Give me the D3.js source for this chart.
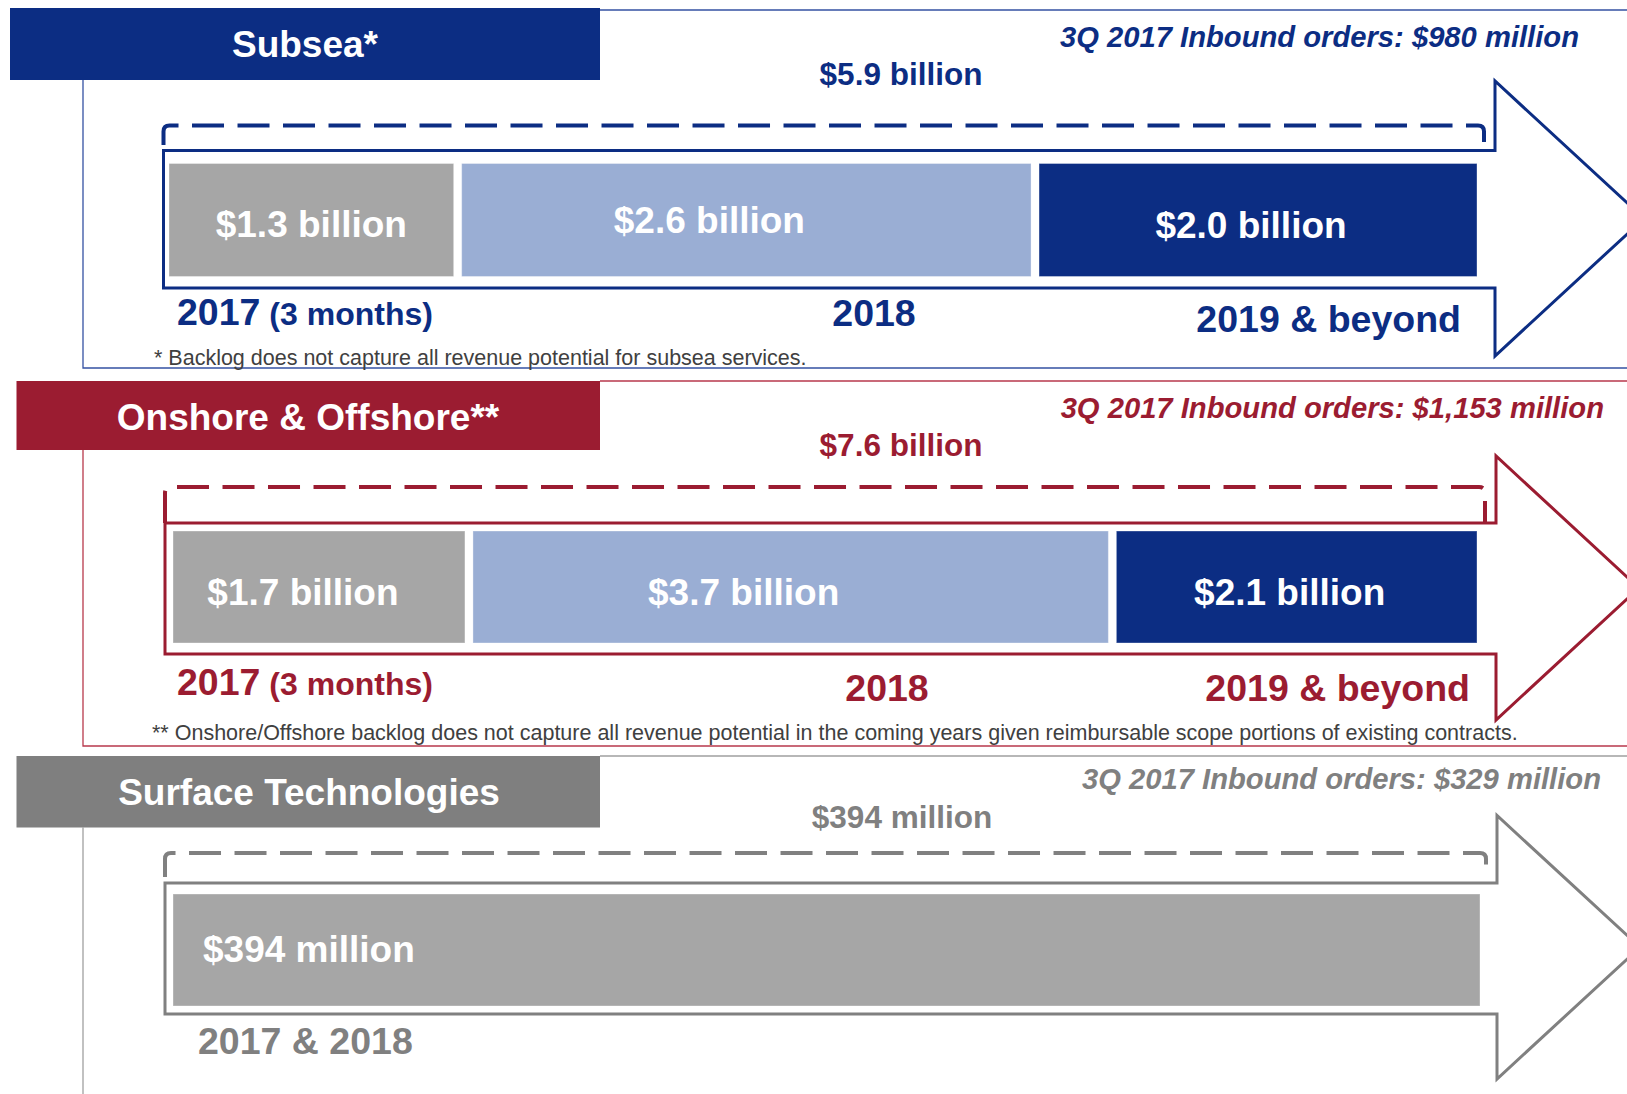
<!DOCTYPE html>
<html>
<head>
<meta charset="utf-8">
<script src="https://d3js.org/d3.v7.min.js"></script>
<style>
 body {margin: 0; background: #fff;}
 text {font-family: "Liberation Sans", Arial, sans-serif;}
</style>
</head>
<body>
<script>

// data
const panelNames = ["Subsea*", "Onshore & Offshore**", "Surface Technologies"];
const panelTotals = ["$5.9 billion", "$7.6 billion", "$394 million"];
const inboundLabels = ["3Q 2017 Inbound orders: $980 million",
                       "3Q 2017 Inbound orders: $1,153 million",
                       "3Q 2017 Inbound orders: $329 million"];
const periods = ["2017", "2018", "2019 & beyond"];
const periodNotes = ["(3 months)", "", ""];
const surfacePeriods = ["2017 & 2018"];
const subseaValues = [1.3, 2.6, 2.0];      // $ billion
const onshoreValues = [1.7, 3.7, 2.1];     // $ billion
const surfaceValues = [394];               // $ million
const footnotes = ["* Backlog does not capture all revenue potential for subsea services.",
  "** Onshore/Offshore backlog does not capture all revenue potential in the coming years given reimbursable scope portions of existing contracts.",
  ""];

const navy = "#0c2d83", crimson = "#9b1c31", grey = "#808080";
const barColors = ["#a6a6a6", "#9aaed4", navy];

const fmtB = v => "$" + d3.format(".1f")(v) + " billion";
const fmtM = v => "$" + d3.format("d")(v) + " million";

const panels = [
 {name: panelNames[0], color: navy, frame: "#3552a3", values: subseaValues, fmt: fmtB,
  total: panelTotals[0], inbound: inboundLabels[0], periods: periods, notes: periodNotes, foot: footnotes[0],
  head: {x: 10, y: 8, w: 590, h: 72, tx: 305, ty: 57},
  box: {top: 10, left: 83, bottom: 368},
  inb: {x: 1579, y: 47}, tot: {x: 901, y: 85},
  dash: {y: 125.5, end: 145},
  arrow: {top: 150.5, bot: 288, left: 163.5, hx: 1495, htop: 81, hbot: 356, tip: 1644},
  bars: {x0: 169, x1: 1477, y0: 163.5, y1: 276.5, gap: 8, ty: [237, 233, 238], dx: [0, -37, -7]},
  lab: [{x: 177, y: 325, a: "start"}, {x: 874, y: 326, a: "middle"}, {x: 1461, y: 332, a: "end"}],
  fn: {x: 154, y: 365}},
 {name: panelNames[1], color: crimson, frame: "#b8394c", values: onshoreValues, fmt: fmtB,
  total: panelTotals[1], inbound: inboundLabels[1], periods: periods, notes: periodNotes, foot: footnotes[1],
  head: {x: 16.5, y: 381, w: 583.5, h: 69, tx: 308, ty: 430},
  box: {top: 381, left: 83, bottom: 746},
  inb: {x: 1604, y: 418}, tot: {x: 901, y: 456},
  dash: {y: 487, end: 523},
  arrow: {top: 523, bot: 654, left: 165, hx: 1496, htop: 456, hbot: 720, tip: 1639},
  bars: {x0: 173, x1: 1477, y0: 531, y1: 643, gap: 8, ty: [605, 605, 605], dx: [-16, -47, -7]},
  lab: [{x: 177, y: 695, a: "start"}, {x: 887, y: 701, a: "middle"}, {x: 1470, y: 701, a: "end"}],
  fn: {x: 152, y: 740}},
 {name: panelNames[2], color: grey, frame: "#a0a0a0", values: surfaceValues, fmt: fmtM,
  total: panelTotals[2], inbound: inboundLabels[2], periods: surfacePeriods, notes: [""], foot: footnotes[2],
  head: {x: 16.5, y: 756, w: 583.5, h: 71.5, tx: 309, ty: 805},
  box: {top: 756, left: 83, bottom: null},
  inb: {x: 1601, y: 789}, tot: {x: 902, y: 828},
  dash: {y: 853, end: 877},
  arrow: {top: 883, bot: 1014, left: 165, hx: 1497, htop: 815.5, hbot: 1079, tip: 1640},
  bars: {x0: 173, x1: 1480, y0: 894, y1: 1006, gap: 8, ty: [962], dx: [0], left: 203},
  lab: [{x: 198, y: 1054, a: "start"}],
  fn: null}
];

const W = 1627, H = 1094;
const svg = d3.select("body").append("svg").attr("width", W).attr("height", H);

panels.forEach(function (p) {
  const g = svg.append("g");
  const headColor = p.color === grey ? "#7f7f7f" : p.color;

  // thin frame
  const fb = p.box.bottom === null ? H : p.box.bottom;
  let frame = "M" + (p.head.x + p.head.w) + "," + p.box.top + "H" + W +
              "M" + p.box.left + "," + (p.head.y + p.head.h) + "V" + fb;
  if (p.box.bottom !== null) frame += "H" + W;
  g.append("path").attr("d", frame).attr("fill", "none")
    .attr("stroke", p.frame).attr("stroke-width", 1.3);

  // header block
  g.append("rect").attr("x", p.head.x).attr("y", p.head.y)
    .attr("width", p.head.w).attr("height", p.head.h).attr("fill", headColor);
  g.append("text").attr("x", p.head.tx).attr("y", p.head.ty)
    .attr("text-anchor", "middle").attr("fill", "#fff")
    .attr("font-size", 37).attr("font-weight", "bold").text(p.name);

  g.append("text").attr("x", p.inb.x).attr("y", p.inb.y)
    .attr("text-anchor", "end").attr("fill", p.color)
    .attr("font-size", 29.2).attr("font-weight", "bold").attr("font-style", "italic")
    .text(p.inbound);

  g.append("text").attr("x", p.tot.x).attr("y", p.tot.y)
    .attr("text-anchor", "middle").attr("fill", p.color)
    .attr("font-size", 31.5).attr("font-weight", "bold").text(p.total);

  // arrow outline
  const a = p.arrow;
  const ay = (a.htop + a.hbot) / 2;
  g.append("path")
    .attr("d", "M" + a.left + "," + a.top + "H" + a.hx + "V" + a.htop +
               "L" + a.tip + "," + ay + "L" + a.hx + "," + a.hbot +
               "V" + a.bot + "H" + a.left + "Z")
    .attr("fill", "none").attr("stroke", p.color).attr("stroke-width", 3)
    .attr("stroke-linejoin", "miter");

  // dashed bracket above the arrow
  const bl = a.left, br = a.hx - 11, r = 6;
  g.append("path")
    .attr("d", "M" + bl + "," + p.dash.end + "V" + (p.dash.y + r) +
               "Q" + bl + "," + p.dash.y + " " + (bl + r) + "," + p.dash.y +
               "H" + (br - r) + "Q" + br + "," + p.dash.y + " " + br + "," + (p.dash.y + r) +
               "V" + p.dash.end)
    .attr("fill", "none").attr("stroke", p.color).attr("stroke-width", 4)
    .attr("stroke-dasharray", "32,13.5");

  // bars: one scale per panel over the same pixel span
  const b = p.bars, n = p.values.length;
  const x = d3.scaleLinear().domain([0, d3.sum(p.values)])
    .range([b.x0, b.x1 - b.gap * (n - 1)]);
  const starts = p.values.map((v, i) => d3.sum(p.values.slice(0, i)));
  const rows = p.values.map((v, i) => ({v: v, i: i,
    x: x(starts[i]) + b.gap * i, w: x(v) - x(0)}));

  g.selectAll("rect.bar").data(rows).enter().append("rect")
    .attr("class", "bar")
    .attr("x", d => d.x).attr("y", b.y0)
    .attr("width", d => d.w).attr("height", b.y1 - b.y0)
    .attr("fill", d => barColors[d.i])
    .attr("stroke", "#ffffff").attr("stroke-opacity", 0.35).attr("stroke-width", 1);

  g.selectAll("text.val").data(rows).enter().append("text")
    .attr("class", "val")
    .attr("x", d => b.left !== undefined ? b.left : d.x + d.w / 2 + b.dx[d.i])
    .attr("y", d => b.ty[d.i])
    .attr("text-anchor", b.left !== undefined ? "start" : "middle")
    .attr("fill", "#fff").attr("font-size", 37).attr("font-weight", "bold")
    .text(d => p.fmt(d.v));

  // period labels under the arrow
  const labs = g.selectAll("text.per").data(p.periods).enter().append("text")
    .attr("class", "per")
    .attr("x", (d, i) => p.lab[i].x).attr("y", (d, i) => p.lab[i].y)
    .attr("text-anchor", (d, i) => p.lab[i].a)
    .attr("fill", p.color).attr("font-size", 37.5).attr("font-weight", "bold")
    .text(d => d);
  labs.filter((d, i) => p.notes[i])
    .append("tspan").attr("font-size", 32)
    .text(d => " " + p.notes[p.periods.indexOf(d)]);

  if (p.fn) {
    g.append("text").attr("x", p.fn.x).attr("y", p.fn.y)
      .attr("fill", "#404040").attr("font-size", 21.5).text(p.foot);
  }
});

</script>
</body>
</html>
